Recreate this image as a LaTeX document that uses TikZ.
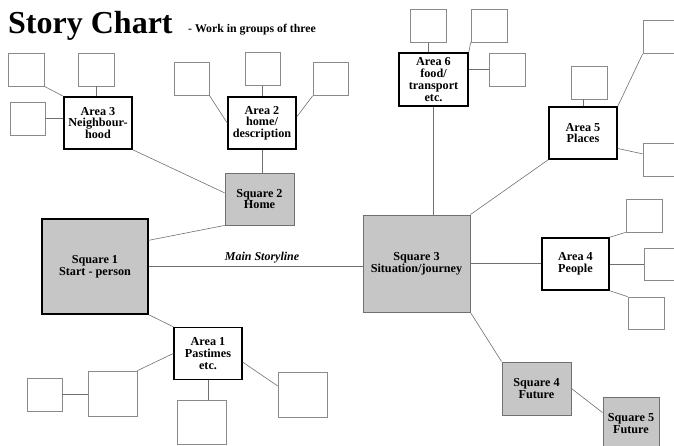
\documentclass[tikz,border=0pt]{standalone}
\usepackage{fontspec}
\setmainfont{Liberation Serif}
\definecolor{sqgray}{HTML}{C6C6C6}
\definecolor{linegray}{HTML}{707070}
\definecolor{boxgray}{HTML}{8A8A8A}
\newcommand{\boxfont}{\fontsize{12.2}{11.7}\selectfont\bfseries}

\begin{document}
\begin{tikzpicture}[x=1pt,y=-1pt,
    area/.style={draw=black,line width=1.5pt,fill=white,minimum width=68pt,minimum height=52pt,inner sep=0pt,align=center,font=\boxfont},
    square/.style={draw=linegray,line width=0.9pt,fill=sqgray,minimum width=69pt,minimum height=52pt,inner sep=0pt,align=center,font=\boxfont},
    blank/.style={draw=boxgray,line width=0.7pt,fill=white,minimum width=36pt,minimum height=33pt,inner sep=0pt},
    bigblank/.style={blank,minimum width=49pt,minimum height=45pt},
    link/.style={draw=linegray,line width=0.6pt}]
    \useasboundingbox (0,0) rectangle (674,445);
    \node[anchor=base west,inner sep=0pt,font=\fontsize{32}{32}\selectfont\bfseries] (title) at (8,33) {Story Chart};
    \node[anchor=base west,inner sep=0pt,font=\fontsize{11.8}{12}\selectfont\bfseries] (sub) at (188,32) {- Work in groups of three};

    \node[square,draw=black,line width=1.4pt,minimum width=106pt,minimum height=95pt] (sq1) at (95,266.5) {Square 1\\Start - person};
    \node[square] (sq2) at (259.5,199) {Square 2\\Home};
    \node[square,minimum width=107pt,minimum height=97pt] (sq3) at (416.5,263.5) {Square 3\\Situation/journey};
    \node[square,minimum height=53pt] (sq4) at (536.5,388.5) {Square 4\\Future};
    \node[square,minimum width=56pt,minimum height=53pt] (sq5) at (631,423.5) {Square 5\\Future};

    \node[area] (a1) at (208,353.5) {Area 1\\Pastimes\\etc.};
    \node[area] (a2) at (262,123) {Area 2\\home/\\description};
    \node[area] (a3) at (98,123) {Area 3\\Neighbour-\\hood};
    \node[area,minimum width=67pt] (a4) at (575.5,264) {Area 4\\People};
    \node[area] (a5) at (583,133) {Area 5\\Places};
    \node[area,minimum width=69pt,minimum height=53pt] (a6) at (433.5,79.5) {Area 6\\food/\\transport\\etc.};

    \node[blank] (b31) at (26,69.5) {};
    \node[blank] (b32) at (96,69.5) {};
    \node[blank,minimum width=35pt] (b33) at (27.5,118.5) {};
    \node[blank,minimum width=35pt] (b21) at (191.5,78.5) {};
    \node[blank,minimum width=35pt] (b22) at (262.5,69) {};
    \node[blank,minimum width=35pt] (b23) at (330.5,79) {};
    \node[blank] (b61) at (428,26) {};
    \node[blank] (b62) at (489,25.5) {};
    \node[blank] (b63) at (507,69.5) {};
    \node[blank] (b51) at (589,82.5) {};
    \node[blank] (b52) at (661,37) {};
    \node[blank] (b53) at (661,159.5) {};
    \node[blank] (b41) at (644,215.5) {};
    \node[blank,minimum height=32pt] (b42) at (662,264) {};
    \node[blank,minimum height=32pt] (b43) at (646,313) {};
    \node[bigblank] (b11) at (112.5,393.5) {};
    \node[blank,minimum width=35pt] (b12) at (44.5,394.5) {};
    \node[bigblank,minimum height=44pt] (b13) at (201.5,422) {};
    \node[bigblank] (b14) at (302.5,394.5) {};

    \draw[link] (sq1.east) -- node[above,pos=0.53,font=\fontsize{12}{12}\selectfont\bfseries\itshape]{Main Storyline} (sq1.east -| sq3.west);
    \draw[link] (sq1.26) -- (sq2.south west);
    \draw[link] (a3.south east) -- (sq2.170);
    \draw[link] (a2.south) -- (a2.south |- sq2.north);
    \draw[link] (sq1.south east) -- (a1.north west);
    \draw[link] (b31.south east) -- (a3.north west);
    \draw[link] (b32.south) -- (b32.south |- a3.north);
    \draw[link] (b33.east) -- (b33.east -| a3.west);
    \draw[link] (b21.south east) -- (a2.west);
    \draw[link] (b22.south) -- (b22.south |- a2.north);
    \draw[link] (a2.10) -- (b23.south west);
    \draw[link] (a1.west) -- (b11.north east);
    \draw[link] (b12.east) -- (b12.east -| b11.west);
    \draw[link] (a1.south) -- (a1.south |- b13.north);
    \draw[link] (a1.-14) -- (b14.161);
    \draw[link] (a6.south) -- (a6.south |- sq3.north);
    \draw[link] (b61.south) -- (b61.south |- a6.north);
    \draw[link] (a6.north east) -- (b62.south west);
    \draw[link] (b63.west) -- (b63.west -| a6.east);
    \draw[link] (sq3.north east) -- (a5.south west);
    \draw[link] (a5.north) -- (a5.north |- b51.south);
    \draw[link] (a5.north east) -- (b52.south west);
    \draw[link] (a5.-24) -- (b53.163);
    \draw[link] (sq3.east) -- (sq3.east -| a4.west);
    \draw[link] (a4.north east) -- (b41.south west);
    \draw[link] (a4.east) -- (b42.west);
    \draw[link] (a4.south east) -- (b43.north west);
    \draw[link] (sq3.south east) -- (sq4.north west);
    \draw[link] (sq4.east) -- (sq5.159.5);
\end{tikzpicture}
\end{document}
